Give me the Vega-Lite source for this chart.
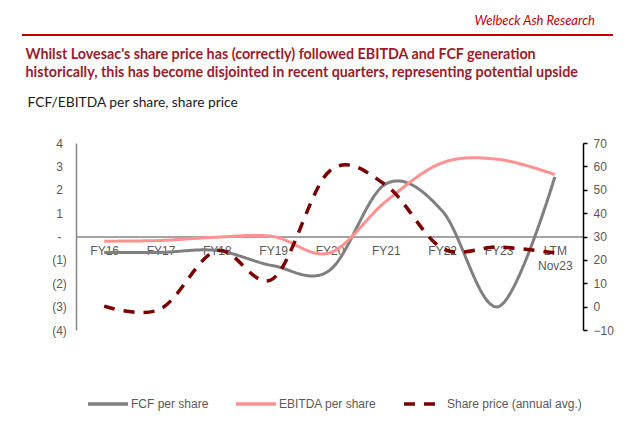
{
  "$schema": "https://vega.github.io/schema/vega-lite/v6.json",
  "autosize": "none",
  "width": 507,
  "height": 187,
  "padding": {"left": 76, "top": 143, "right": 57, "bottom": 100},
  "background": "white",
  "config": {
    "view": {"stroke": null},
    "font": "Liberation Sans"
  },
  "title": {
    "text": "Welbeck Ash Research",
    "anchor": "end",
    "frame": "group",
    "font": "Lato",
    "fontStyle": "italic",
    "fontWeight": "normal",
    "fontSize": 13,
    "color": "#C00000",
    "offset": 6,
    "dx": 12
  },
  "datasets": {
    "rulerow": [{"start": 0, "end": 1, "level": 0}],
    "perShare": [
      {"period": "FY16", "series": "FCF per share", "value": -0.68},
      {"period": "FY17", "series": "FCF per share", "value": -0.68},
      {"period": "FY18", "series": "FCF per share", "value": -0.6},
      {"period": "FY19", "series": "FCF per share", "value": -1.25},
      {"period": "FY20", "series": "FCF per share", "value": -1.45},
      {"period": "FY21", "series": "FCF per share", "value": 2.25},
      {"period": "FY22", "series": "FCF per share", "value": 1.1},
      {"period": "FY23", "series": "FCF per share", "value": -3.0},
      {"period": "LTM Nov23", "series": "FCF per share", "value": 2.55},
      {"period": "FY16", "series": "EBITDA per share", "value": -0.2},
      {"period": "FY17", "series": "EBITDA per share", "value": -0.17},
      {"period": "FY18", "series": "EBITDA per share", "value": -0.03},
      {"period": "FY19", "series": "EBITDA per share", "value": 0.0},
      {"period": "FY20", "series": "EBITDA per share", "value": -0.7},
      {"period": "FY21", "series": "EBITDA per share", "value": 1.5},
      {"period": "FY22", "series": "EBITDA per share", "value": 3.15},
      {"period": "FY23", "series": "EBITDA per share", "value": 3.3},
      {"period": "LTM Nov23", "series": "EBITDA per share", "value": 2.65}
    ],
    "price": [
      {"period": "FY16", "series": "Share price (annual avg.)", "value": 0.2},
      {"period": "FY17", "series": "Share price (annual avg.)", "value": -1},
      {"period": "FY18", "series": "Share price (annual avg.)", "value": 24},
      {"period": "FY19", "series": "Share price (annual avg.)", "value": 12},
      {"period": "FY20", "series": "Share price (annual avg.)", "value": 58},
      {"period": "FY21", "series": "Share price (annual avg.)", "value": 52},
      {"period": "FY22", "series": "Share price (annual avg.)", "value": 25},
      {"period": "FY23", "series": "Share price (annual avg.)", "value": 25.5},
      {"period": "LTM Nov23", "series": "Share price (annual avg.)", "value": 23}
    ]
  },
  "layer": [
    {
      "data": {"name": "perShare"},
      "mark": {"type": "line", "interpolate": "cardinal", "strokeWidth": 3},
      "encoding": {
        "x": {
          "field": "period",
          "type": "ordinal",
          "sort": null,
          "scale": {"type": "point", "padding": 0.5},
          "axis": {
            "title": null,
            "orient": "bottom",
            "offset": -93.5,
            "labelAngle": 0,
            "ticks": false,
            "tickSize": 0,
            "labelPadding": 9,
            "labelFont": "Liberation Sans",
            "labelFontSize": 12,
            "labelColor": "#595959",
            "labelLineHeight": 15,
            "domainColor": "#868686",
            "domainWidth": 1.5,
            "labelExpr": "datum.value == 'LTM Nov23' ? ['LTM', 'Nov23'] : datum.label"
          }
        },
        "y": {
          "field": "value",
          "type": "quantitative",
          "scale": {"domain": [-4, 4], "nice": false},
          "axis": {
            "title": [
              "Whilst Lovesac's share price has (correctly) followed EBITDA and FCF generation",
              "historically, this has become disjointed in recent quarters, representing potential upside"
            ],
            "titleAngle": 0,
            "titleAlign": "left",
            "titleBaseline": "top",
            "titleX": -51,
            "titleY": -96,
            "titleFont": "Lato",
            "titleFontSize": 14.3,
            "titleFontWeight": "bold",
            "titleColor": "#9C1C2B",
            "titleLineHeight": 18,
            "orient": "left",
            "values": [-4, -3, -2, -1, 0, 1, 2, 3, 4],
            "grid": false,
            "ticks": false,
            "tickSize": 0,
            "labelAlign": "center",
            "labelPadding": 17,
            "labelFont": "Liberation Sans",
            "labelFontSize": 12,
            "labelColor": "#595959",
            "domainColor": "#868686",
            "domainWidth": 1.5,
            "labelExpr": "datum.value == 0 ? '-' : (datum.value < 0 ? '(' + (-datum.value) + ')' : '' + datum.value)"
          }
        },
        "color": {
          "field": "series",
          "type": "nominal",
          "scale": {
            "domain": ["FCF per share", "EBITDA per share", "Share price (annual avg.)"],
            "range": ["#7F7F7F", "#FF9191", "#7B0000"]
          },
          "legend": {
            "title": null,
            "orient": "none",
            "direction": "horizontal",
            "legendX": 10,
            "legendY": 239,
            "padding": 0,
            "gridAlign": "none",
            "symbolType": "stroke",
            "symbolSize": 1600,
            "symbolStrokeWidth": 3.5,
            "labelFont": "Liberation Sans",
            "labelFontSize": 12,
            "labelColor": "#595959",
            "labelOffset": 1,
            "columnPadding": 20
          }
        },
        "strokeDash": {
          "field": "series",
          "type": "nominal",
          "scale": {
            "domain": ["FCF per share", "EBITDA per share", "Share price (annual avg.)"],
            "range": [[1, 0], [1, 0], [11, 9]]
          },
          "legend": {
            "title": null,
            "orient": "none",
            "direction": "horizontal",
            "legendX": 10,
            "legendY": 239,
            "padding": 0,
            "gridAlign": "none",
            "symbolType": "stroke",
            "symbolSize": 1600,
            "symbolStrokeWidth": 3.5,
            "labelFont": "Liberation Sans",
            "labelFontSize": 12,
            "labelColor": "#595959",
            "labelOffset": 1,
            "columnPadding": 20
          }
        }
      }
    },
    {
      "data": {"name": "price"},
      "mark": {"type": "line", "interpolate": "cardinal", "strokeWidth": 3.5},
      "encoding": {
        "x": {
          "field": "period",
          "type": "ordinal",
          "sort": null,
          "scale": {"type": "point", "padding": 0.5},
          "axis": null
        },
        "y": {
          "field": "value",
          "type": "quantitative",
          "scale": {"domain": [-10, 70], "nice": false},
          "axis": {
            "title": "FCF/EBITDA per share, share price",
            "titleAngle": 0,
            "titleAlign": "left",
            "titleBaseline": "top",
            "titleX": -556,
            "titleY": -48,
            "titleFont": "Lato",
            "titleFontSize": 13.8,
            "titleFontWeight": "normal",
            "titleColor": "#1A1A1A",
            "orient": "right",
            "values": [-10, 0, 10, 20, 30, 40, 50, 60, 70],
            "grid": false,
            "ticks": true,
            "tickSize": 4,
            "tickColor": "#000000",
            "tickWidth": 1.5,
            "labelPadding": 6,
            "labelFont": "Liberation Sans",
            "labelFontSize": 12,
            "labelColor": "#595959",
            "domainColor": "#000000",
            "domainWidth": 1.5
          }
        },
        "color": {"field": "series", "type": "nominal"},
        "strokeDash": {"field": "series", "type": "nominal"}
      }
    },
    {
      "data": {"name": "rulerow"},
      "mark": {"type": "rule", "stroke": "#C00000", "strokeWidth": 2},
      "encoding": {
        "x": {"field": "start", "type": "quantitative", "scale": {"domain": [0, 1], "range": [-54, 537], "nice": false}, "axis": null},
        "x2": {"field": "end"},
        "y": {"field": "level", "type": "quantitative", "scale": {"domain": [0, 1], "range": [-108, -107], "nice": false}, "axis": null}
      }
    }
  ],
  "resolve": {"scale": {"x": "independent", "y": "independent"}}
}
